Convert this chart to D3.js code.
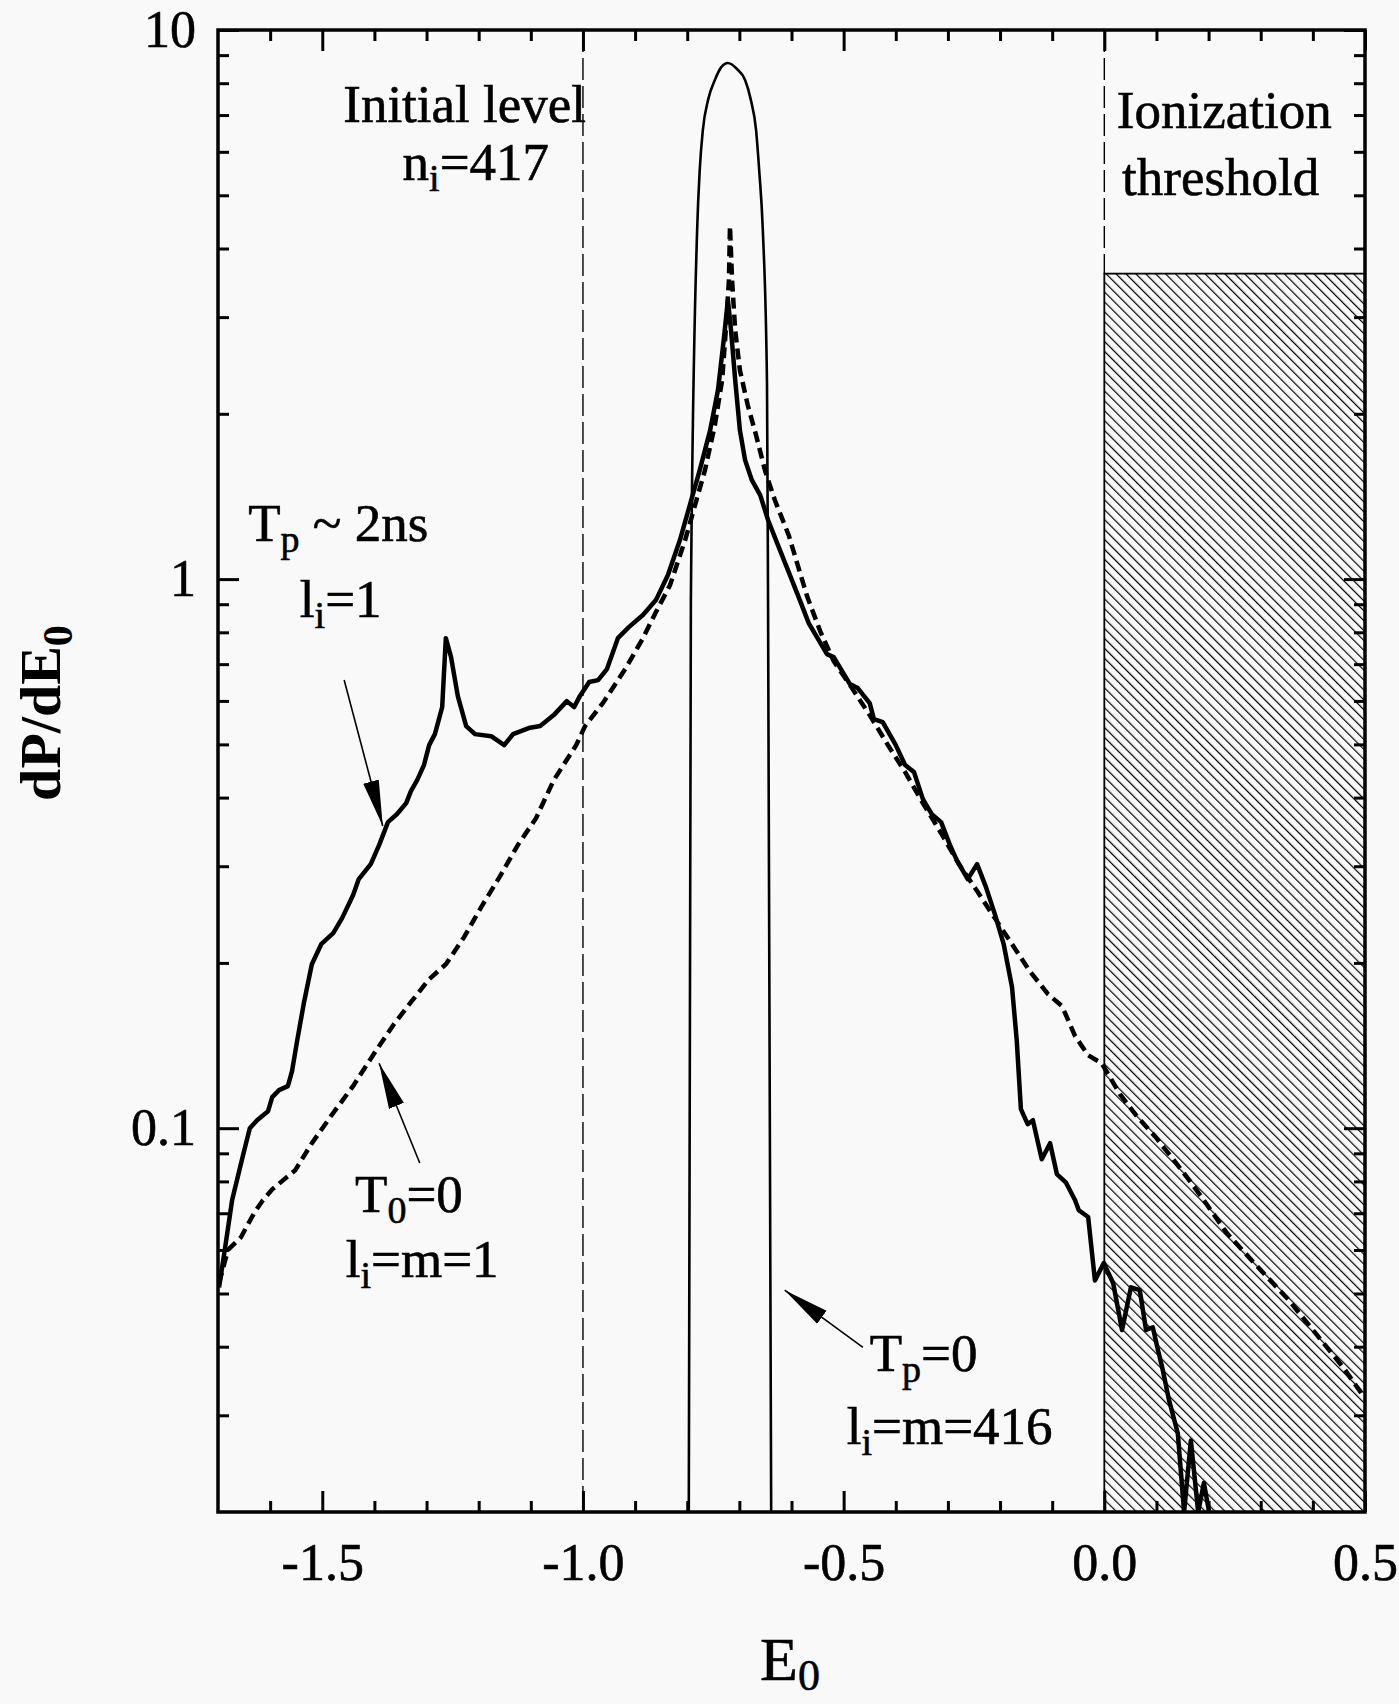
<!DOCTYPE html>
<html>
<head>
<meta charset="utf-8">
<script src="https://cdn.jsdelivr.net/npm/d3@7"></script>
<style>
body { margin: 0; background: #f9f9f9; }
text { font-family: "Liberation Serif", "Times New Roman", serif; fill: #000; }
</style>
</head>
<body>
<svg id="chart" width="1399" height="1704"></svg>
<script>

// Tp ~ 2ns, li=1  (thick solid)
var pulsed = [
    [-1.698, 0.0513], [-1.687, 0.060], [-1.673, 0.0739], [-1.652, 0.0893], [-1.639, 0.100],
    [-1.625, 0.1034], [-1.604, 0.1074], [-1.596, 0.1139], [-1.583, 0.1173], [-1.566, 0.1193],
    [-1.558, 0.127], [-1.548, 0.1446], [-1.535, 0.1696], [-1.520, 0.1989], [-1.502, 0.2163],
    [-1.479, 0.2266], [-1.462, 0.2413], [-1.441, 0.2657], [-1.430, 0.2842], [-1.407, 0.3027],
    [-1.391, 0.3278], [-1.374, 0.3609], [-1.357, 0.3731], [-1.339, 0.3908], [-1.330, 0.411],
    [-1.318, 0.4303], [-1.305, 0.4584], [-1.295, 0.4984], [-1.284, 0.522], [-1.270, 0.5846],
    [-1.263, 0.7806], [-1.253, 0.7209], [-1.240, 0.6121], [-1.224, 0.5399], [-1.207, 0.522],
    [-1.176, 0.5176], [-1.151, 0.4984], [-1.134, 0.522], [-1.104, 0.5354], [-1.082, 0.5399],
    [-1.056, 0.5653], [-1.031, 0.5995], [-1.017, 0.5846], [-1.006, 0.6121], [-0.988, 0.6494],
    [-0.971, 0.6546], [-0.954, 0.6856], [-0.933, 0.7806], [-0.912, 0.8176], [-0.885, 0.8604],
    [-0.860, 0.9157], [-0.837, 1.017], [-0.814, 1.178], [-0.795, 1.364], [-0.776, 1.579],
    [-0.756, 1.868], [-0.741, 2.21], [-0.730, 2.725], [-0.722, 3.223], [-0.716, 2.841],
    [-0.708, 2.305], [-0.699, 1.868], [-0.689, 1.647], [-0.676, 1.514], [-0.660, 1.422],
    [-0.645, 1.281], [-0.626, 1.153], [-0.603, 1.017], [-0.584, 0.9157], [-0.567, 0.8313],
    [-0.532, 0.7301], [-0.519, 0.7209], [-0.488, 0.6439], [-0.473, 0.6332], [-0.450, 0.5944],
    [-0.442, 0.5559], [-0.425, 0.549], [-0.400, 0.4984], [-0.382, 0.4584], [-0.365, 0.4451],
    [-0.348, 0.3975], [-0.331, 0.3731], [-0.313, 0.3609], [-0.296, 0.3278], [-0.283, 0.3078],
    [-0.262, 0.2842], [-0.244, 0.3027], [-0.227, 0.2748], [-0.210, 0.2454], [-0.193, 0.2163],
    [-0.177, 0.1806], [-0.168, 0.1446], [-0.160, 0.1083], [-0.147, 0.1017], [-0.137, 0.1034],
    [-0.120, 0.0878], [-0.104, 0.0939], [-0.091, 0.0825], [-0.074, 0.0797], [-0.056, 0.0739],
    [-0.049, 0.0709], [-0.031, 0.0689], [-0.018, 0.0528], [-0.001, 0.0568], [0.017, 0.0522],
    [0.034, 0.0429], [0.051, 0.0513], [0.068, 0.0507], [0.080, 0.0429], [0.093, 0.0434],
    [0.103, 0.0394], [0.111, 0.0367], [0.124, 0.032], [0.141, 0.0278], [0.153, 0.020],
    [0.166, 0.027], [0.180, 0.020], [0.191, 0.0226], [0.201, 0.020]
];

// T0=0, li=m=1  (thick dashed)
var unpulsed = [
    [-1.698, 0.0522], [-1.681, 0.060], [-1.656, 0.0633], [-1.631, 0.070], [-1.614, 0.0739],
    [-1.596, 0.0774], [-1.552, 0.0838], [-1.520, 0.0939], [-1.485, 0.1047], [-1.441, 0.1193],
    [-1.399, 0.1375], [-1.364, 0.154], [-1.330, 0.1696], [-1.295, 0.1868], [-1.263, 0.1989],
    [-1.228, 0.2228], [-1.194, 0.2538], [-1.159, 0.2877], [-1.125, 0.3278], [-1.090, 0.367],
    [-1.056, 0.4303], [-1.013, 0.4984], [-0.996, 0.5399], [-0.962, 0.5944], [-0.919, 0.6856],
    [-0.885, 0.7806], [-0.860, 0.8708], [-0.833, 0.9752], [-0.804, 1.178], [-0.785, 1.364],
    [-0.766, 1.579], [-0.747, 1.908], [-0.733, 2.305], [-0.726, 2.841], [-0.720, 3.505],
    [-0.718, 4.395], [-0.714, 3.505], [-0.708, 2.841], [-0.699, 2.403], [-0.684, 2.075],
    [-0.668, 1.829], [-0.651, 1.579], [-0.632, 1.393], [-0.605, 1.20], [-0.570, 0.93],
    [-0.545, 0.8039], [-0.519, 0.7089], [-0.484, 0.6332], [-0.450, 0.5653], [-0.415, 0.4984],
    [-0.382, 0.4451], [-0.348, 0.3908], [-0.313, 0.3445], [-0.279, 0.3027], [-0.244, 0.2703],
    [-0.210, 0.2413], [-0.177, 0.2163], [-0.143, 0.1932], [-0.108, 0.1754], [-0.081, 0.1668],
    [-0.056, 0.1471], [-0.031, 0.1358], [-0.005, 0.1313], [0.030, 0.1153], [0.064, 0.1047],
    [0.097, 0.0967], [0.132, 0.0878], [0.166, 0.0797], [0.191, 0.0739], [0.235, 0.0644],
    [0.295, 0.0558], [0.354, 0.0486], [0.416, 0.0411], [0.458, 0.0367], [0.498, 0.0324]
];

// Tp=0, li=m=416  (thin solid)
var circular = [
    [-0.797, 0.02], [-0.793, 0.916], [-0.781, 4.32], [-0.776, 5.56], [-0.770, 6.58],
    [-0.760, 7.46], [-0.747, 8.11], [-0.735, 8.55], [-0.722, 8.71], [-0.705, 8.5],
    [-0.689, 8.11], [-0.678, 7.46], [-0.668, 6.58], [-0.662, 5.56], [-0.655, 4.32],
    [-0.647, 2.27], [-0.645, 0.916], [-0.639, 0.02]
];

var xTicks = [-1.5, -1.0, -0.5, 0.0, 0.5];
var xTickLabels = ["-1.5", "-1.0", "-0.5", "0.0", "0.5"];
var yTicks = [0.1, 1, 10];
var yTickLabels = ["0.1", "1", "10"];

var initialLevel = -1.0;
var ionThreshold = 0.0;
var hatchTop = 3.6;

var margin = {top: 30, right: 34, bottom: 192, left: 218},
    width = 1399 - margin.left - margin.right,
    height = 1704 - margin.top - margin.bottom;

var svg = d3.select("#chart");

var defs = svg.append("defs");
defs.append("clipPath").attr("id", "plotClip")
    .append("rect").attr("width", width).attr("height", height);

var hatch = defs.append("pattern")
    .attr("id", "hatch")
    .attr("patternUnits", "userSpaceOnUse")
    .attr("width", 7).attr("height", 7)
    .attr("patternTransform", "rotate(-45)");
hatch.append("line")
    .attr("x1", 0).attr("y1", 0).attr("x2", 0).attr("y2", 7)
    .attr("stroke", "#000").attr("stroke-width", 2.4);

defs.append("marker")
    .attr("id", "arrow")
    .attr("markerUnits", "userSpaceOnUse")
    .attr("viewBox", "0 -10 48 20")
    .attr("refX", 46).attr("refY", 0)
    .attr("markerWidth", 48).attr("markerHeight", 20)
    .attr("orient", "auto")
    .append("path")
    .attr("d", "M0,-8L46,0L0,8Z")
    .attr("fill", "#000");

var g = svg.append("g")
    .attr("transform", "translate(" + margin.left + "," + margin.top + ")");

var x = d3.scaleLinear().domain([-1.7, 0.5]).range([0, width]);
var y = d3.scaleLog().domain([0.02, 10]).range([height, 0]);

// hatched ionization region
g.append("rect")
    .attr("x", x(ionThreshold))
    .attr("y", y(hatchTop))
    .attr("width", x(0.5) - x(ionThreshold))
    .attr("height", y(0.02) - y(hatchTop))
    .attr("fill", "url(#hatch)")
    .attr("stroke", "#000")
    .attr("stroke-width", 1.8);

// dashed guide lines
g.append("line")
    .attr("x1", x(initialLevel)).attr("x2", x(initialLevel))
    .attr("y1", 0).attr("y2", height)
    .attr("stroke", "#000").attr("stroke-width", 1.4)
    .attr("stroke-dasharray", "22,6");
g.append("line")
    .attr("x1", x(ionThreshold)).attr("x2", x(ionThreshold))
    .attr("y1", 0).attr("y2", y(hatchTop))
    .attr("stroke", "#000").attr("stroke-width", 1.4)
    .attr("stroke-dasharray", "22,6");

// axes
var xMinor = d3.range(-16, 5).filter(function(d) { return d % 5 !== 0; })
    .map(function(d) { return d / 10; });
var yMinor = [];
[0.01, 0.1, 1].forEach(function(dec) {
    d3.range(2, 10).forEach(function(k) {
        var v = +(k * dec).toPrecision(3);
        if (v > 0.02 && v < 10) yMinor.push(v);
    });
});

function styleAxis(sel) {
    sel.select(".domain").remove();
    sel.selectAll(".tick line").attr("stroke", "#000").attr("stroke-width", 3);
    sel.selectAll(".tick text")
        .attr("font-family", "'Liberation Serif', 'Times New Roman', serif")
        .attr("font-size", 52)
        .attr("fill", "#000")
        .attr("stroke", "#000").attr("stroke-width", 0.6);
}

g.append("g").attr("transform", "translate(0," + height + ")")
    .call(d3.axisBottom(x).tickValues(xTicks).tickSize(-21).tickPadding(31)
        .tickFormat(function(d, i) { return xTickLabels[i]; }))
    .call(styleAxis);
g.append("g").attr("transform", "translate(0," + height + ")")
    .call(d3.axisBottom(x).tickValues(xMinor).tickSize(-11).tickFormat(""))
    .call(styleAxis);
g.append("g")
    .call(d3.axisTop(x).tickValues(xTicks).tickSize(-21).tickFormat(""))
    .call(styleAxis);
g.append("g")
    .call(d3.axisTop(x).tickValues(xMinor).tickSize(-11).tickFormat(""))
    .call(styleAxis);

g.append("g")
    .call(d3.axisLeft(y).tickValues(yTicks).tickSize(-21).tickPadding(22)
        .tickFormat(function(d, i) { return yTickLabels[i]; }))
    .call(styleAxis);
g.append("g")
    .call(d3.axisLeft(y).tickValues(yMinor).tickSize(-11).tickFormat(""))
    .call(styleAxis);
g.append("g").attr("transform", "translate(" + width + ",0)")
    .call(d3.axisRight(y).tickValues(yTicks).tickSize(-21).tickFormat(""))
    .call(styleAxis);
g.append("g").attr("transform", "translate(" + width + ",0)")
    .call(d3.axisRight(y).tickValues(yMinor).tickSize(-11).tickFormat(""))
    .call(styleAxis);

// curves
var line = d3.line()
    .x(function(d) { return x(d[0]); })
    .y(function(d) { return y(Math.max(d[1], 0.02)); });

var curves = g.append("g").attr("clip-path", "url(#plotClip)");

curves.append("path").datum(circular)
    .attr("d", line.curve(d3.curveMonotoneX))
    .attr("fill", "none").attr("stroke", "#000").attr("stroke-width", 2.6);

line.curve(d3.curveLinear);
curves.append("path").datum(unpulsed)
    .attr("d", line)
    .attr("fill", "none").attr("stroke", "#000").attr("stroke-width", 4.5)
    .attr("stroke-dasharray", "11,6");

curves.append("path").datum(pulsed)
    .attr("d", line)
    .attr("fill", "none").attr("stroke", "#000").attr("stroke-width", 4.5)
    .attr("stroke-linejoin", "round");

// frame
g.append("rect")
    .attr("width", width).attr("height", height)
    .attr("fill", "none").attr("stroke", "#000").attr("stroke-width", 3.5);

// arrows
var arrows = [
    [[-1.458, 0.655], [-1.384, 0.355]],
    [[-1.313, 0.0864], [-1.391, 0.1313]],
    [[-0.463, 0.0399], [-0.613, 0.0507]]
];
arrows.forEach(function(a) {
    g.append("line")
        .attr("x1", x(a[0][0])).attr("y1", y(a[0][1]))
        .attr("x2", x(a[1][0])).attr("y2", y(a[1][1]))
        .attr("stroke", "#000").attr("stroke-width", 1.6)
        .attr("marker-end", "url(#arrow)");
});

// labels: parts are [text, subscript?]
function label(parts, e, v, anchor) {
    var t = g.append("text")
        .attr("x", x(e)).attr("y", y(v))
        .attr("font-size", 53)
        .attr("stroke", "#000").attr("stroke-width", 0.6)
        .attr("text-anchor", anchor || "start");
    var shifted = false;
    parts.forEach(function(p) {
        var s = t.append("tspan").text(p[0]);
        if (p[1]) {
            s.attr("font-size", 38).attr("dy", 11);
            shifted = true;
        } else if (shifted) {
            s.attr("dy", -11);
            shifted = false;
        }
    });
}

label([["Initial level"]], -0.994, 6.80, "end");
label([["n"], ["i", 1], ["=417"]], -1.065, 5.33, "end");
label([["Ionization"]], 0.024, 6.63);
label([["threshold"]], 0.034, 5.01);
label([["T"], ["p", 1], [" ~ 2ns"]], -1.642, 1.173);
label([["l"], ["i", 1], ["=1"]], -1.543, 0.853);
label([["T"], ["0", 1], ["=0"]], -1.437, 0.0705);
label([["l"], ["i", 1], ["=m=1"]], -1.455, 0.0535);
label([["T"], ["p", 1], ["=0"]], -0.450, 0.0362);
label([["l"], ["i", 1], ["=m=416"]], -0.494, 0.0266);

// axis titles
var yTitle = svg.append("text")
    .attr("transform", "translate(60," + (margin.top + 683) + ") rotate(-90)")
    .attr("text-anchor", "middle")
    .attr("font-size", 58)
    .attr("font-weight", "bold");
yTitle.append("tspan").text("dP/dE");
yTitle.append("tspan").text("0").attr("font-size", 42).attr("dy", 12);

var xTitle = svg.append("text")
    .attr("x", 790).attr("y", 1680)
    .attr("text-anchor", "middle")
    .attr("font-size", 62)
    .attr("stroke", "#000").attr("stroke-width", 0.6);
xTitle.append("tspan").text("E");
xTitle.append("tspan").text("0").attr("font-size", 44).attr("dy", 10);

</script>
</body>
</html>
